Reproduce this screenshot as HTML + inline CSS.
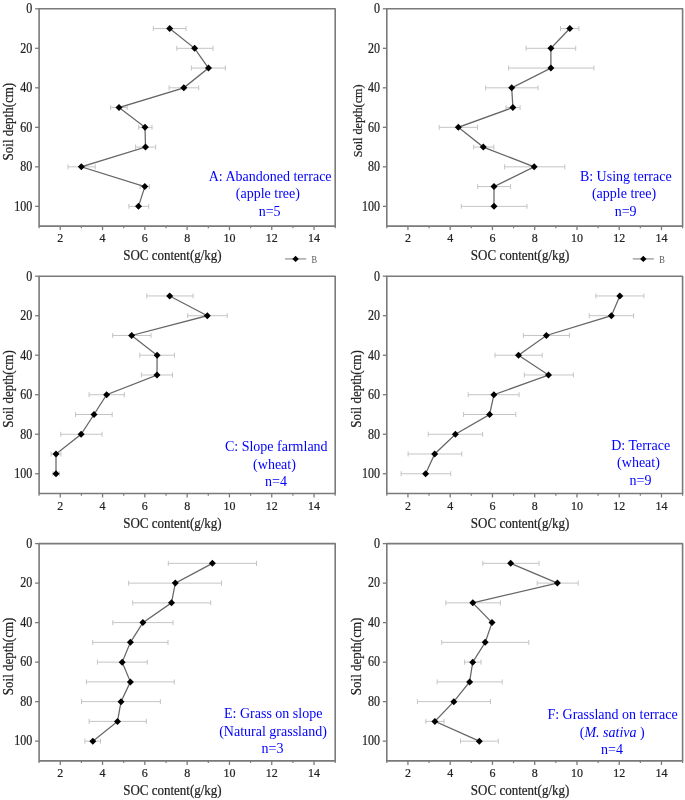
<!DOCTYPE html>
<html><head><meta charset="utf-8"><style>
html,body{margin:0;padding:0;background:#fff;}
body{width:685px;height:800px;overflow:hidden;}
svg{display:block;filter:blur(0.3px);}
text{font-family:"Liberation Serif",serif;}
.tk{font-size:12px;fill:#222;stroke:#222;stroke-width:0.2px;}
.tt{font-size:13px;fill:#222;stroke:#222;stroke-width:0.2px;}
.an{font-size:14px;fill:#0000ff;}
.lg{font-size:10.5px;fill:#555;}
</style></head><body>
<svg width="685" height="800" viewBox="0 0 685 800">
<rect width="685" height="800" fill="#fff"/>
<rect x="39.10" y="8.80" width="296.10" height="217.30" fill="none" stroke="#7a7a7a" stroke-width="1.6" stroke-linejoin="round"/>
<line x1="35.10" y1="8.80" x2="39.10" y2="8.80" stroke="#7a7a7a" stroke-width="1.3"/>
<text transform="translate(32.30,13.10) scale(1,1.15)" class="tk" text-anchor="end">0</text>
<line x1="35.10" y1="48.31" x2="39.10" y2="48.31" stroke="#7a7a7a" stroke-width="1.3"/>
<text transform="translate(32.30,52.61) scale(1,1.15)" class="tk" text-anchor="end">20</text>
<line x1="35.10" y1="87.82" x2="39.10" y2="87.82" stroke="#7a7a7a" stroke-width="1.3"/>
<text transform="translate(32.30,92.12) scale(1,1.15)" class="tk" text-anchor="end">40</text>
<line x1="35.10" y1="127.33" x2="39.10" y2="127.33" stroke="#7a7a7a" stroke-width="1.3"/>
<text transform="translate(32.30,131.63) scale(1,1.15)" class="tk" text-anchor="end">60</text>
<line x1="35.10" y1="166.84" x2="39.10" y2="166.84" stroke="#7a7a7a" stroke-width="1.3"/>
<text transform="translate(32.30,171.14) scale(1,1.15)" class="tk" text-anchor="end">80</text>
<line x1="35.10" y1="206.35" x2="39.10" y2="206.35" stroke="#7a7a7a" stroke-width="1.3"/>
<text transform="translate(32.30,210.65) scale(1,1.15)" class="tk" text-anchor="end">100</text>
<line x1="60.25" y1="226.10" x2="60.25" y2="230.10" stroke="#7a7a7a" stroke-width="1.3"/>
<text transform="translate(60.25,242.30) scale(1,1.1)" class="tk" text-anchor="middle">2</text>
<line x1="102.55" y1="226.10" x2="102.55" y2="230.10" stroke="#7a7a7a" stroke-width="1.3"/>
<text transform="translate(102.55,242.30) scale(1,1.1)" class="tk" text-anchor="middle">4</text>
<line x1="144.85" y1="226.10" x2="144.85" y2="230.10" stroke="#7a7a7a" stroke-width="1.3"/>
<text transform="translate(144.85,242.30) scale(1,1.1)" class="tk" text-anchor="middle">6</text>
<line x1="187.15" y1="226.10" x2="187.15" y2="230.10" stroke="#7a7a7a" stroke-width="1.3"/>
<text transform="translate(187.15,242.30) scale(1,1.1)" class="tk" text-anchor="middle">8</text>
<line x1="229.45" y1="226.10" x2="229.45" y2="230.10" stroke="#7a7a7a" stroke-width="1.3"/>
<text transform="translate(229.45,242.30) scale(1,1.1)" class="tk" text-anchor="middle">10</text>
<line x1="271.75" y1="226.10" x2="271.75" y2="230.10" stroke="#7a7a7a" stroke-width="1.3"/>
<text transform="translate(271.75,242.30) scale(1,1.1)" class="tk" text-anchor="middle">12</text>
<line x1="314.05" y1="226.10" x2="314.05" y2="230.10" stroke="#7a7a7a" stroke-width="1.3"/>
<text transform="translate(314.05,242.30) scale(1,1.1)" class="tk" text-anchor="middle">14</text>
<line x1="39.10" y1="226.10" x2="39.10" y2="228.30" stroke="#7a7a7a" stroke-width="1.2"/>
<line x1="81.40" y1="226.10" x2="81.40" y2="228.30" stroke="#7a7a7a" stroke-width="1.2"/>
<line x1="123.70" y1="226.10" x2="123.70" y2="228.30" stroke="#7a7a7a" stroke-width="1.2"/>
<line x1="166.00" y1="226.10" x2="166.00" y2="228.30" stroke="#7a7a7a" stroke-width="1.2"/>
<line x1="208.30" y1="226.10" x2="208.30" y2="228.30" stroke="#7a7a7a" stroke-width="1.2"/>
<line x1="250.60" y1="226.10" x2="250.60" y2="228.30" stroke="#7a7a7a" stroke-width="1.2"/>
<line x1="292.90" y1="226.10" x2="292.90" y2="228.30" stroke="#7a7a7a" stroke-width="1.2"/>
<line x1="335.20" y1="226.10" x2="335.20" y2="228.30" stroke="#7a7a7a" stroke-width="1.2"/>
<text transform="translate(172.40,260.10) scale(1,1.08)" class="tt" text-anchor="middle">SOC content(g/kg)</text>
<text transform="translate(12.90,121.60) rotate(-90) scale(1,1.08)" class="tt" text-anchor="middle">Soil depth(cm)</text>
<path d="M153.30 28.55H186.00M153.30 26.05V31.05M186.00 26.05V31.05" stroke="#c4c4c4" stroke-width="1" fill="none"/>
<path d="M176.80 48.31H213.00M176.80 45.81V50.81M213.00 45.81V50.81" stroke="#c4c4c4" stroke-width="1" fill="none"/>
<path d="M191.40 68.06H225.30M191.40 65.56V70.56M225.30 65.56V70.56" stroke="#c4c4c4" stroke-width="1" fill="none"/>
<path d="M169.10 87.82H198.70M169.10 85.32V90.32M198.70 85.32V90.32" stroke="#c4c4c4" stroke-width="1" fill="none"/>
<path d="M110.60 107.57H127.20M110.60 105.07V110.07M127.20 105.07V110.07" stroke="#c4c4c4" stroke-width="1" fill="none"/>
<path d="M138.70 127.33H152.00M138.70 124.83V129.83M152.00 124.83V129.83" stroke="#c4c4c4" stroke-width="1" fill="none"/>
<path d="M135.60 147.08H155.70M135.60 144.58V149.58M155.70 144.58V149.58" stroke="#c4c4c4" stroke-width="1" fill="none"/>
<path d="M68.00 166.84H95.20M68.00 164.34V169.34M95.20 164.34V169.34" stroke="#c4c4c4" stroke-width="1" fill="none"/>
<path d="M140.10 186.59H149.30M140.10 184.09V189.09M149.30 184.09V189.09" stroke="#c4c4c4" stroke-width="1" fill="none"/>
<path d="M128.90 206.35H148.70M128.90 203.85V208.85M148.70 203.85V208.85" stroke="#c4c4c4" stroke-width="1" fill="none"/>
<path d="M169.70 28.55 L194.60 48.31 L208.50 68.06 L183.80 87.82 L119.00 107.57 L145.00 127.33 L145.50 147.08 L81.30 166.84 L144.80 186.59 L138.50 206.35" stroke="#666" stroke-width="1.25" fill="none"/>
<path d="M169.70 25.05L173.20 28.55L169.70 32.05L166.20 28.55Z" fill="#000"/>
<path d="M194.60 44.81L198.10 48.31L194.60 51.81L191.10 48.31Z" fill="#000"/>
<path d="M208.50 64.56L212.00 68.06L208.50 71.56L205.00 68.06Z" fill="#000"/>
<path d="M183.80 84.32L187.30 87.82L183.80 91.32L180.30 87.82Z" fill="#000"/>
<path d="M119.00 104.07L122.50 107.57L119.00 111.07L115.50 107.57Z" fill="#000"/>
<path d="M145.00 123.83L148.50 127.33L145.00 130.83L141.50 127.33Z" fill="#000"/>
<path d="M145.50 143.58L149.00 147.08L145.50 150.58L142.00 147.08Z" fill="#000"/>
<path d="M81.30 163.34L84.80 166.84L81.30 170.34L77.80 166.84Z" fill="#000"/>
<path d="M144.80 183.09L148.30 186.59L144.80 190.09L141.30 186.59Z" fill="#000"/>
<path d="M138.50 202.85L142.00 206.35L138.50 209.85L135.00 206.35Z" fill="#000"/>
<text x="270.15" y="180.80" class="an" text-anchor="middle">A: Abandoned terrace</text>
<text x="267.90" y="198.30" class="an" text-anchor="middle">(apple tree)</text>
<text x="269.60" y="215.80" class="an" text-anchor="middle">n=5</text>
<line x1="285.10" y1="258.9" x2="306.10" y2="258.9" stroke="#999" stroke-width="1.3"/>
<path d="M295.60 255.70L298.80 258.90L295.60 262.10L292.40 258.90Z" fill="#000"/>
<text transform="translate(311.60,262.90) scale(0.8,1)" class="lg">B</text>
<rect x="386.80" y="8.80" width="295.80" height="217.30" fill="none" stroke="#7a7a7a" stroke-width="1.6" stroke-linejoin="round"/>
<line x1="382.80" y1="8.80" x2="386.80" y2="8.80" stroke="#7a7a7a" stroke-width="1.3"/>
<text transform="translate(380.00,13.10) scale(1,1.15)" class="tk" text-anchor="end">0</text>
<line x1="382.80" y1="48.31" x2="386.80" y2="48.31" stroke="#7a7a7a" stroke-width="1.3"/>
<text transform="translate(380.00,52.61) scale(1,1.15)" class="tk" text-anchor="end">20</text>
<line x1="382.80" y1="87.82" x2="386.80" y2="87.82" stroke="#7a7a7a" stroke-width="1.3"/>
<text transform="translate(380.00,92.12) scale(1,1.15)" class="tk" text-anchor="end">40</text>
<line x1="382.80" y1="127.33" x2="386.80" y2="127.33" stroke="#7a7a7a" stroke-width="1.3"/>
<text transform="translate(380.00,131.63) scale(1,1.15)" class="tk" text-anchor="end">60</text>
<line x1="382.80" y1="166.84" x2="386.80" y2="166.84" stroke="#7a7a7a" stroke-width="1.3"/>
<text transform="translate(380.00,171.14) scale(1,1.15)" class="tk" text-anchor="end">80</text>
<line x1="382.80" y1="206.35" x2="386.80" y2="206.35" stroke="#7a7a7a" stroke-width="1.3"/>
<text transform="translate(380.00,210.65) scale(1,1.15)" class="tk" text-anchor="end">100</text>
<line x1="407.93" y1="226.10" x2="407.93" y2="230.10" stroke="#7a7a7a" stroke-width="1.3"/>
<text transform="translate(407.93,242.30) scale(1,1.1)" class="tk" text-anchor="middle">2</text>
<line x1="450.19" y1="226.10" x2="450.19" y2="230.10" stroke="#7a7a7a" stroke-width="1.3"/>
<text transform="translate(450.19,242.30) scale(1,1.1)" class="tk" text-anchor="middle">4</text>
<line x1="492.44" y1="226.10" x2="492.44" y2="230.10" stroke="#7a7a7a" stroke-width="1.3"/>
<text transform="translate(492.44,242.30) scale(1,1.1)" class="tk" text-anchor="middle">6</text>
<line x1="534.70" y1="226.10" x2="534.70" y2="230.10" stroke="#7a7a7a" stroke-width="1.3"/>
<text transform="translate(534.70,242.30) scale(1,1.1)" class="tk" text-anchor="middle">8</text>
<line x1="576.96" y1="226.10" x2="576.96" y2="230.10" stroke="#7a7a7a" stroke-width="1.3"/>
<text transform="translate(576.96,242.30) scale(1,1.1)" class="tk" text-anchor="middle">10</text>
<line x1="619.21" y1="226.10" x2="619.21" y2="230.10" stroke="#7a7a7a" stroke-width="1.3"/>
<text transform="translate(619.21,242.30) scale(1,1.1)" class="tk" text-anchor="middle">12</text>
<line x1="661.47" y1="226.10" x2="661.47" y2="230.10" stroke="#7a7a7a" stroke-width="1.3"/>
<text transform="translate(661.47,242.30) scale(1,1.1)" class="tk" text-anchor="middle">14</text>
<line x1="386.80" y1="226.10" x2="386.80" y2="228.30" stroke="#7a7a7a" stroke-width="1.2"/>
<line x1="429.06" y1="226.10" x2="429.06" y2="228.30" stroke="#7a7a7a" stroke-width="1.2"/>
<line x1="471.31" y1="226.10" x2="471.31" y2="228.30" stroke="#7a7a7a" stroke-width="1.2"/>
<line x1="513.57" y1="226.10" x2="513.57" y2="228.30" stroke="#7a7a7a" stroke-width="1.2"/>
<line x1="555.83" y1="226.10" x2="555.83" y2="228.30" stroke="#7a7a7a" stroke-width="1.2"/>
<line x1="598.09" y1="226.10" x2="598.09" y2="228.30" stroke="#7a7a7a" stroke-width="1.2"/>
<line x1="640.34" y1="226.10" x2="640.34" y2="228.30" stroke="#7a7a7a" stroke-width="1.2"/>
<line x1="682.60" y1="226.10" x2="682.60" y2="228.30" stroke="#7a7a7a" stroke-width="1.2"/>
<text transform="translate(520.10,260.10) scale(1,1.08)" class="tt" text-anchor="middle">SOC content(g/kg)</text>
<text transform="translate(361.50,120.80) rotate(-90) scale(1,1.08)" class="tt" style="font-size:12.2px" text-anchor="middle">Soil depth(cm)</text>
<path d="M560.50 28.55H578.90M560.50 26.05V31.05M578.90 26.05V31.05" stroke="#c4c4c4" stroke-width="1" fill="none"/>
<path d="M526.10 48.31H575.70M526.10 45.81V50.81M575.70 45.81V50.81" stroke="#c4c4c4" stroke-width="1" fill="none"/>
<path d="M508.60 68.06H593.90M508.60 65.56V70.56M593.90 65.56V70.56" stroke="#c4c4c4" stroke-width="1" fill="none"/>
<path d="M485.70 87.82H538.10M485.70 85.32V90.32M538.10 85.32V90.32" stroke="#c4c4c4" stroke-width="1" fill="none"/>
<path d="M506.10 107.57H520.10M506.10 105.07V110.07M520.10 105.07V110.07" stroke="#c4c4c4" stroke-width="1" fill="none"/>
<path d="M439.20 127.33H477.50M439.20 124.83V129.83M477.50 124.83V129.83" stroke="#c4c4c4" stroke-width="1" fill="none"/>
<path d="M473.70 147.08H493.80M473.70 144.58V149.58M493.80 144.58V149.58" stroke="#c4c4c4" stroke-width="1" fill="none"/>
<path d="M504.60 166.84H564.80M504.60 164.34V169.34M564.80 164.34V169.34" stroke="#c4c4c4" stroke-width="1" fill="none"/>
<path d="M477.70 186.59H510.60M477.70 184.09V189.09M510.60 184.09V189.09" stroke="#c4c4c4" stroke-width="1" fill="none"/>
<path d="M461.30 206.35H527.00M461.30 203.85V208.85M527.00 203.85V208.85" stroke="#c4c4c4" stroke-width="1" fill="none"/>
<path d="M569.80 28.55 L550.90 48.31 L550.90 68.06 L511.70 87.82 L512.90 107.57 L458.30 127.33 L483.30 147.08 L534.20 166.84 L494.00 186.59 L494.00 206.35" stroke="#666" stroke-width="1.25" fill="none"/>
<path d="M569.80 25.05L573.30 28.55L569.80 32.05L566.30 28.55Z" fill="#000"/>
<path d="M550.90 44.81L554.40 48.31L550.90 51.81L547.40 48.31Z" fill="#000"/>
<path d="M550.90 64.56L554.40 68.06L550.90 71.56L547.40 68.06Z" fill="#000"/>
<path d="M511.70 84.32L515.20 87.82L511.70 91.32L508.20 87.82Z" fill="#000"/>
<path d="M512.90 104.07L516.40 107.57L512.90 111.07L509.40 107.57Z" fill="#000"/>
<path d="M458.30 123.83L461.80 127.33L458.30 130.83L454.80 127.33Z" fill="#000"/>
<path d="M483.30 143.58L486.80 147.08L483.30 150.58L479.80 147.08Z" fill="#000"/>
<path d="M534.20 163.34L537.70 166.84L534.20 170.34L530.70 166.84Z" fill="#000"/>
<path d="M494.00 183.09L497.50 186.59L494.00 190.09L490.50 186.59Z" fill="#000"/>
<path d="M494.00 202.85L497.50 206.35L494.00 209.85L490.50 206.35Z" fill="#000"/>
<text x="625.75" y="180.60" class="an" text-anchor="middle">B: Using terrace</text>
<text x="624.00" y="198.10" class="an" text-anchor="middle">(apple tree)</text>
<text x="625.65" y="215.60" class="an" text-anchor="middle">n=9</text>
<line x1="632.80" y1="258.9" x2="653.80" y2="258.9" stroke="#999" stroke-width="1.3"/>
<path d="M643.30 255.70L646.50 258.90L643.30 262.10L640.10 258.90Z" fill="#000"/>
<text transform="translate(659.30,262.90) scale(0.8,1)" class="lg">B</text>
<rect x="39.10" y="276.20" width="296.10" height="217.30" fill="none" stroke="#7a7a7a" stroke-width="1.6" stroke-linejoin="round"/>
<line x1="35.10" y1="276.20" x2="39.10" y2="276.20" stroke="#7a7a7a" stroke-width="1.3"/>
<text transform="translate(32.30,280.50) scale(1,1.15)" class="tk" text-anchor="end">0</text>
<line x1="35.10" y1="315.71" x2="39.10" y2="315.71" stroke="#7a7a7a" stroke-width="1.3"/>
<text transform="translate(32.30,320.01) scale(1,1.15)" class="tk" text-anchor="end">20</text>
<line x1="35.10" y1="355.22" x2="39.10" y2="355.22" stroke="#7a7a7a" stroke-width="1.3"/>
<text transform="translate(32.30,359.52) scale(1,1.15)" class="tk" text-anchor="end">40</text>
<line x1="35.10" y1="394.73" x2="39.10" y2="394.73" stroke="#7a7a7a" stroke-width="1.3"/>
<text transform="translate(32.30,399.03) scale(1,1.15)" class="tk" text-anchor="end">60</text>
<line x1="35.10" y1="434.24" x2="39.10" y2="434.24" stroke="#7a7a7a" stroke-width="1.3"/>
<text transform="translate(32.30,438.54) scale(1,1.15)" class="tk" text-anchor="end">80</text>
<line x1="35.10" y1="473.75" x2="39.10" y2="473.75" stroke="#7a7a7a" stroke-width="1.3"/>
<text transform="translate(32.30,478.05) scale(1,1.15)" class="tk" text-anchor="end">100</text>
<line x1="60.25" y1="493.50" x2="60.25" y2="497.50" stroke="#7a7a7a" stroke-width="1.3"/>
<text transform="translate(60.25,509.70) scale(1,1.1)" class="tk" text-anchor="middle">2</text>
<line x1="102.55" y1="493.50" x2="102.55" y2="497.50" stroke="#7a7a7a" stroke-width="1.3"/>
<text transform="translate(102.55,509.70) scale(1,1.1)" class="tk" text-anchor="middle">4</text>
<line x1="144.85" y1="493.50" x2="144.85" y2="497.50" stroke="#7a7a7a" stroke-width="1.3"/>
<text transform="translate(144.85,509.70) scale(1,1.1)" class="tk" text-anchor="middle">6</text>
<line x1="187.15" y1="493.50" x2="187.15" y2="497.50" stroke="#7a7a7a" stroke-width="1.3"/>
<text transform="translate(187.15,509.70) scale(1,1.1)" class="tk" text-anchor="middle">8</text>
<line x1="229.45" y1="493.50" x2="229.45" y2="497.50" stroke="#7a7a7a" stroke-width="1.3"/>
<text transform="translate(229.45,509.70) scale(1,1.1)" class="tk" text-anchor="middle">10</text>
<line x1="271.75" y1="493.50" x2="271.75" y2="497.50" stroke="#7a7a7a" stroke-width="1.3"/>
<text transform="translate(271.75,509.70) scale(1,1.1)" class="tk" text-anchor="middle">12</text>
<line x1="314.05" y1="493.50" x2="314.05" y2="497.50" stroke="#7a7a7a" stroke-width="1.3"/>
<text transform="translate(314.05,509.70) scale(1,1.1)" class="tk" text-anchor="middle">14</text>
<line x1="39.10" y1="493.50" x2="39.10" y2="495.70" stroke="#7a7a7a" stroke-width="1.2"/>
<line x1="81.40" y1="493.50" x2="81.40" y2="495.70" stroke="#7a7a7a" stroke-width="1.2"/>
<line x1="123.70" y1="493.50" x2="123.70" y2="495.70" stroke="#7a7a7a" stroke-width="1.2"/>
<line x1="166.00" y1="493.50" x2="166.00" y2="495.70" stroke="#7a7a7a" stroke-width="1.2"/>
<line x1="208.30" y1="493.50" x2="208.30" y2="495.70" stroke="#7a7a7a" stroke-width="1.2"/>
<line x1="250.60" y1="493.50" x2="250.60" y2="495.70" stroke="#7a7a7a" stroke-width="1.2"/>
<line x1="292.90" y1="493.50" x2="292.90" y2="495.70" stroke="#7a7a7a" stroke-width="1.2"/>
<line x1="335.20" y1="493.50" x2="335.20" y2="495.70" stroke="#7a7a7a" stroke-width="1.2"/>
<text transform="translate(172.40,527.50) scale(1,1.08)" class="tt" text-anchor="middle">SOC content(g/kg)</text>
<text transform="translate(12.90,389.00) rotate(-90) scale(1,1.08)" class="tt" text-anchor="middle">Soil depth(cm)</text>
<path d="M146.80 295.95H193.10M146.80 293.45V298.45M193.10 293.45V298.45" stroke="#c4c4c4" stroke-width="1" fill="none"/>
<path d="M187.70 315.71H227.20M187.70 313.21V318.21M227.20 313.21V318.21" stroke="#c4c4c4" stroke-width="1" fill="none"/>
<path d="M112.70 335.46H151.00M112.70 332.96V337.96M151.00 332.96V337.96" stroke="#c4c4c4" stroke-width="1" fill="none"/>
<path d="M139.80 355.22H174.40M139.80 352.72V357.72M174.40 352.72V357.72" stroke="#c4c4c4" stroke-width="1" fill="none"/>
<path d="M141.40 374.97H172.50M141.40 372.47V377.47M172.50 372.47V377.47" stroke="#c4c4c4" stroke-width="1" fill="none"/>
<path d="M89.10 394.73H124.30M89.10 392.23V397.23M124.30 392.23V397.23" stroke="#c4c4c4" stroke-width="1" fill="none"/>
<path d="M75.50 414.48H112.20M75.50 411.98V416.98M112.20 411.98V416.98" stroke="#c4c4c4" stroke-width="1" fill="none"/>
<path d="M60.80 434.24H102.10M60.80 431.74V436.74M102.10 431.74V436.74" stroke="#c4c4c4" stroke-width="1" fill="none"/>
<path d="M51.10 453.99H60.90M51.10 451.49V456.49M60.90 451.49V456.49" stroke="#c4c4c4" stroke-width="1" fill="none"/>
<path d="M52.80 473.75H59.30M52.80 471.25V476.25M59.30 471.25V476.25" stroke="#c4c4c4" stroke-width="1" fill="none"/>
<path d="M169.70 295.95 L207.30 315.71 L131.60 335.46 L157.10 355.22 L157.00 374.97 L106.60 394.73 L94.00 414.48 L81.10 434.24 L56.00 453.99 L56.00 473.75" stroke="#666" stroke-width="1.25" fill="none"/>
<path d="M169.70 292.45L173.20 295.95L169.70 299.45L166.20 295.95Z" fill="#000"/>
<path d="M207.30 312.21L210.80 315.71L207.30 319.21L203.80 315.71Z" fill="#000"/>
<path d="M131.60 331.96L135.10 335.46L131.60 338.96L128.10 335.46Z" fill="#000"/>
<path d="M157.10 351.72L160.60 355.22L157.10 358.72L153.60 355.22Z" fill="#000"/>
<path d="M157.00 371.47L160.50 374.97L157.00 378.47L153.50 374.97Z" fill="#000"/>
<path d="M106.60 391.23L110.10 394.73L106.60 398.23L103.10 394.73Z" fill="#000"/>
<path d="M94.00 410.98L97.50 414.48L94.00 417.98L90.50 414.48Z" fill="#000"/>
<path d="M81.10 430.74L84.60 434.24L81.10 437.74L77.60 434.24Z" fill="#000"/>
<path d="M56.00 450.49L59.50 453.99L56.00 457.49L52.50 453.99Z" fill="#000"/>
<path d="M56.00 470.25L59.50 473.75L56.00 477.25L52.50 473.75Z" fill="#000"/>
<text x="276.30" y="451.40" class="an" text-anchor="middle">C: Slope farmland</text>
<text x="274.50" y="468.90" class="an" text-anchor="middle">(wheat)</text>
<text x="276.00" y="486.40" class="an" text-anchor="middle">n=4</text>
<rect x="386.80" y="276.20" width="295.80" height="217.30" fill="none" stroke="#7a7a7a" stroke-width="1.6" stroke-linejoin="round"/>
<line x1="382.80" y1="276.20" x2="386.80" y2="276.20" stroke="#7a7a7a" stroke-width="1.3"/>
<text transform="translate(380.00,280.50) scale(1,1.15)" class="tk" text-anchor="end">0</text>
<line x1="382.80" y1="315.71" x2="386.80" y2="315.71" stroke="#7a7a7a" stroke-width="1.3"/>
<text transform="translate(380.00,320.01) scale(1,1.15)" class="tk" text-anchor="end">20</text>
<line x1="382.80" y1="355.22" x2="386.80" y2="355.22" stroke="#7a7a7a" stroke-width="1.3"/>
<text transform="translate(380.00,359.52) scale(1,1.15)" class="tk" text-anchor="end">40</text>
<line x1="382.80" y1="394.73" x2="386.80" y2="394.73" stroke="#7a7a7a" stroke-width="1.3"/>
<text transform="translate(380.00,399.03) scale(1,1.15)" class="tk" text-anchor="end">60</text>
<line x1="382.80" y1="434.24" x2="386.80" y2="434.24" stroke="#7a7a7a" stroke-width="1.3"/>
<text transform="translate(380.00,438.54) scale(1,1.15)" class="tk" text-anchor="end">80</text>
<line x1="382.80" y1="473.75" x2="386.80" y2="473.75" stroke="#7a7a7a" stroke-width="1.3"/>
<text transform="translate(380.00,478.05) scale(1,1.15)" class="tk" text-anchor="end">100</text>
<line x1="407.93" y1="493.50" x2="407.93" y2="497.50" stroke="#7a7a7a" stroke-width="1.3"/>
<text transform="translate(407.93,509.70) scale(1,1.1)" class="tk" text-anchor="middle">2</text>
<line x1="450.19" y1="493.50" x2="450.19" y2="497.50" stroke="#7a7a7a" stroke-width="1.3"/>
<text transform="translate(450.19,509.70) scale(1,1.1)" class="tk" text-anchor="middle">4</text>
<line x1="492.44" y1="493.50" x2="492.44" y2="497.50" stroke="#7a7a7a" stroke-width="1.3"/>
<text transform="translate(492.44,509.70) scale(1,1.1)" class="tk" text-anchor="middle">6</text>
<line x1="534.70" y1="493.50" x2="534.70" y2="497.50" stroke="#7a7a7a" stroke-width="1.3"/>
<text transform="translate(534.70,509.70) scale(1,1.1)" class="tk" text-anchor="middle">8</text>
<line x1="576.96" y1="493.50" x2="576.96" y2="497.50" stroke="#7a7a7a" stroke-width="1.3"/>
<text transform="translate(576.96,509.70) scale(1,1.1)" class="tk" text-anchor="middle">10</text>
<line x1="619.21" y1="493.50" x2="619.21" y2="497.50" stroke="#7a7a7a" stroke-width="1.3"/>
<text transform="translate(619.21,509.70) scale(1,1.1)" class="tk" text-anchor="middle">12</text>
<line x1="661.47" y1="493.50" x2="661.47" y2="497.50" stroke="#7a7a7a" stroke-width="1.3"/>
<text transform="translate(661.47,509.70) scale(1,1.1)" class="tk" text-anchor="middle">14</text>
<line x1="386.80" y1="493.50" x2="386.80" y2="495.70" stroke="#7a7a7a" stroke-width="1.2"/>
<line x1="429.06" y1="493.50" x2="429.06" y2="495.70" stroke="#7a7a7a" stroke-width="1.2"/>
<line x1="471.31" y1="493.50" x2="471.31" y2="495.70" stroke="#7a7a7a" stroke-width="1.2"/>
<line x1="513.57" y1="493.50" x2="513.57" y2="495.70" stroke="#7a7a7a" stroke-width="1.2"/>
<line x1="555.83" y1="493.50" x2="555.83" y2="495.70" stroke="#7a7a7a" stroke-width="1.2"/>
<line x1="598.09" y1="493.50" x2="598.09" y2="495.70" stroke="#7a7a7a" stroke-width="1.2"/>
<line x1="640.34" y1="493.50" x2="640.34" y2="495.70" stroke="#7a7a7a" stroke-width="1.2"/>
<line x1="682.60" y1="493.50" x2="682.60" y2="495.70" stroke="#7a7a7a" stroke-width="1.2"/>
<text transform="translate(520.10,527.50) scale(1,1.08)" class="tt" text-anchor="middle">SOC content(g/kg)</text>
<text transform="translate(360.60,389.00) rotate(-90) scale(1,1.08)" class="tt" text-anchor="middle">Soil depth(cm)</text>
<path d="M595.80 295.95H643.90M595.80 293.45V298.45M643.90 293.45V298.45" stroke="#c4c4c4" stroke-width="1" fill="none"/>
<path d="M589.20 315.71H633.60M589.20 313.21V318.21M633.60 313.21V318.21" stroke="#c4c4c4" stroke-width="1" fill="none"/>
<path d="M523.40 335.46H569.40M523.40 332.96V337.96M569.40 332.96V337.96" stroke="#c4c4c4" stroke-width="1" fill="none"/>
<path d="M495.00 355.22H542.20M495.00 352.72V357.72M542.20 352.72V357.72" stroke="#c4c4c4" stroke-width="1" fill="none"/>
<path d="M524.30 374.97H573.40M524.30 372.47V377.47M573.40 372.47V377.47" stroke="#c4c4c4" stroke-width="1" fill="none"/>
<path d="M468.20 394.73H519.10M468.20 392.23V397.23M519.10 392.23V397.23" stroke="#c4c4c4" stroke-width="1" fill="none"/>
<path d="M463.60 414.48H515.80M463.60 411.98V416.98M515.80 411.98V416.98" stroke="#c4c4c4" stroke-width="1" fill="none"/>
<path d="M428.20 434.24H482.60M428.20 431.74V436.74M482.60 431.74V436.74" stroke="#c4c4c4" stroke-width="1" fill="none"/>
<path d="M408.10 453.99H461.80M408.10 451.49V456.49M461.80 451.49V456.49" stroke="#c4c4c4" stroke-width="1" fill="none"/>
<path d="M401.10 473.75H450.70M401.10 471.25V476.25M450.70 471.25V476.25" stroke="#c4c4c4" stroke-width="1" fill="none"/>
<path d="M619.80 295.95 L611.40 315.71 L546.40 335.46 L518.50 355.22 L548.50 374.97 L493.90 394.73 L489.60 414.48 L455.40 434.24 L434.70 453.99 L425.60 473.75" stroke="#666" stroke-width="1.25" fill="none"/>
<path d="M619.80 292.45L623.30 295.95L619.80 299.45L616.30 295.95Z" fill="#000"/>
<path d="M611.40 312.21L614.90 315.71L611.40 319.21L607.90 315.71Z" fill="#000"/>
<path d="M546.40 331.96L549.90 335.46L546.40 338.96L542.90 335.46Z" fill="#000"/>
<path d="M518.50 351.72L522.00 355.22L518.50 358.72L515.00 355.22Z" fill="#000"/>
<path d="M548.50 371.47L552.00 374.97L548.50 378.47L545.00 374.97Z" fill="#000"/>
<path d="M493.90 391.23L497.40 394.73L493.90 398.23L490.40 394.73Z" fill="#000"/>
<path d="M489.60 410.98L493.10 414.48L489.60 417.98L486.10 414.48Z" fill="#000"/>
<path d="M455.40 430.74L458.90 434.24L455.40 437.74L451.90 434.24Z" fill="#000"/>
<path d="M434.70 450.49L438.20 453.99L434.70 457.49L431.20 453.99Z" fill="#000"/>
<path d="M425.60 470.25L429.10 473.75L425.60 477.25L422.10 473.75Z" fill="#000"/>
<text x="640.65" y="449.50" class="an" text-anchor="middle">D: Terrace</text>
<text x="638.50" y="467.00" class="an" text-anchor="middle">(wheat)</text>
<text x="640.50" y="484.50" class="an" text-anchor="middle">n=9</text>
<rect x="39.10" y="543.60" width="296.10" height="217.30" fill="none" stroke="#7a7a7a" stroke-width="1.6" stroke-linejoin="round"/>
<line x1="35.10" y1="543.60" x2="39.10" y2="543.60" stroke="#7a7a7a" stroke-width="1.3"/>
<text transform="translate(32.30,547.90) scale(1,1.15)" class="tk" text-anchor="end">0</text>
<line x1="35.10" y1="583.11" x2="39.10" y2="583.11" stroke="#7a7a7a" stroke-width="1.3"/>
<text transform="translate(32.30,587.41) scale(1,1.15)" class="tk" text-anchor="end">20</text>
<line x1="35.10" y1="622.62" x2="39.10" y2="622.62" stroke="#7a7a7a" stroke-width="1.3"/>
<text transform="translate(32.30,626.92) scale(1,1.15)" class="tk" text-anchor="end">40</text>
<line x1="35.10" y1="662.13" x2="39.10" y2="662.13" stroke="#7a7a7a" stroke-width="1.3"/>
<text transform="translate(32.30,666.43) scale(1,1.15)" class="tk" text-anchor="end">60</text>
<line x1="35.10" y1="701.64" x2="39.10" y2="701.64" stroke="#7a7a7a" stroke-width="1.3"/>
<text transform="translate(32.30,705.94) scale(1,1.15)" class="tk" text-anchor="end">80</text>
<line x1="35.10" y1="741.15" x2="39.10" y2="741.15" stroke="#7a7a7a" stroke-width="1.3"/>
<text transform="translate(32.30,745.45) scale(1,1.15)" class="tk" text-anchor="end">100</text>
<line x1="60.25" y1="760.90" x2="60.25" y2="764.90" stroke="#7a7a7a" stroke-width="1.3"/>
<text transform="translate(60.25,777.10) scale(1,1.1)" class="tk" text-anchor="middle">2</text>
<line x1="102.55" y1="760.90" x2="102.55" y2="764.90" stroke="#7a7a7a" stroke-width="1.3"/>
<text transform="translate(102.55,777.10) scale(1,1.1)" class="tk" text-anchor="middle">4</text>
<line x1="144.85" y1="760.90" x2="144.85" y2="764.90" stroke="#7a7a7a" stroke-width="1.3"/>
<text transform="translate(144.85,777.10) scale(1,1.1)" class="tk" text-anchor="middle">6</text>
<line x1="187.15" y1="760.90" x2="187.15" y2="764.90" stroke="#7a7a7a" stroke-width="1.3"/>
<text transform="translate(187.15,777.10) scale(1,1.1)" class="tk" text-anchor="middle">8</text>
<line x1="229.45" y1="760.90" x2="229.45" y2="764.90" stroke="#7a7a7a" stroke-width="1.3"/>
<text transform="translate(229.45,777.10) scale(1,1.1)" class="tk" text-anchor="middle">10</text>
<line x1="271.75" y1="760.90" x2="271.75" y2="764.90" stroke="#7a7a7a" stroke-width="1.3"/>
<text transform="translate(271.75,777.10) scale(1,1.1)" class="tk" text-anchor="middle">12</text>
<line x1="314.05" y1="760.90" x2="314.05" y2="764.90" stroke="#7a7a7a" stroke-width="1.3"/>
<text transform="translate(314.05,777.10) scale(1,1.1)" class="tk" text-anchor="middle">14</text>
<line x1="39.10" y1="760.90" x2="39.10" y2="763.10" stroke="#7a7a7a" stroke-width="1.2"/>
<line x1="81.40" y1="760.90" x2="81.40" y2="763.10" stroke="#7a7a7a" stroke-width="1.2"/>
<line x1="123.70" y1="760.90" x2="123.70" y2="763.10" stroke="#7a7a7a" stroke-width="1.2"/>
<line x1="166.00" y1="760.90" x2="166.00" y2="763.10" stroke="#7a7a7a" stroke-width="1.2"/>
<line x1="208.30" y1="760.90" x2="208.30" y2="763.10" stroke="#7a7a7a" stroke-width="1.2"/>
<line x1="250.60" y1="760.90" x2="250.60" y2="763.10" stroke="#7a7a7a" stroke-width="1.2"/>
<line x1="292.90" y1="760.90" x2="292.90" y2="763.10" stroke="#7a7a7a" stroke-width="1.2"/>
<line x1="335.20" y1="760.90" x2="335.20" y2="763.10" stroke="#7a7a7a" stroke-width="1.2"/>
<text transform="translate(172.40,794.90) scale(1,1.08)" class="tt" text-anchor="middle">SOC content(g/kg)</text>
<text transform="translate(12.90,656.40) rotate(-90) scale(1,1.08)" class="tt" text-anchor="middle">Soil depth(cm)</text>
<path d="M168.30 563.35H256.50M168.30 560.85V565.85M256.50 560.85V565.85" stroke="#c4c4c4" stroke-width="1" fill="none"/>
<path d="M128.60 583.11H221.50M128.60 580.61V585.61M221.50 580.61V585.61" stroke="#c4c4c4" stroke-width="1" fill="none"/>
<path d="M132.70 602.86H210.70M132.70 600.36V605.36M210.70 600.36V605.36" stroke="#c4c4c4" stroke-width="1" fill="none"/>
<path d="M112.80 622.62H173.00M112.80 620.12V625.12M173.00 620.12V625.12" stroke="#c4c4c4" stroke-width="1" fill="none"/>
<path d="M92.70 642.37H168.00M92.70 639.87V644.87M168.00 639.87V644.87" stroke="#c4c4c4" stroke-width="1" fill="none"/>
<path d="M97.40 662.13H147.30M97.40 659.63V664.63M147.30 659.63V664.63" stroke="#c4c4c4" stroke-width="1" fill="none"/>
<path d="M86.40 681.88H174.30M86.40 679.38V684.38M174.30 679.38V684.38" stroke="#c4c4c4" stroke-width="1" fill="none"/>
<path d="M81.50 701.64H160.40M81.50 699.14V704.14M160.40 699.14V704.14" stroke="#c4c4c4" stroke-width="1" fill="none"/>
<path d="M89.10 721.39H146.40M89.10 718.89V723.89M146.40 718.89V723.89" stroke="#c4c4c4" stroke-width="1" fill="none"/>
<path d="M84.90 741.15H100.50M84.90 738.65V743.65M100.50 738.65V743.65" stroke="#c4c4c4" stroke-width="1" fill="none"/>
<path d="M212.40 563.35 L175.30 583.11 L171.50 602.86 L142.90 622.62 L130.40 642.37 L122.20 662.13 L130.40 681.88 L121.00 701.64 L117.50 721.39 L92.80 741.15" stroke="#666" stroke-width="1.25" fill="none"/>
<path d="M212.40 559.85L215.90 563.35L212.40 566.85L208.90 563.35Z" fill="#000"/>
<path d="M175.30 579.61L178.80 583.11L175.30 586.61L171.80 583.11Z" fill="#000"/>
<path d="M171.50 599.36L175.00 602.86L171.50 606.36L168.00 602.86Z" fill="#000"/>
<path d="M142.90 619.12L146.40 622.62L142.90 626.12L139.40 622.62Z" fill="#000"/>
<path d="M130.40 638.87L133.90 642.37L130.40 645.87L126.90 642.37Z" fill="#000"/>
<path d="M122.20 658.63L125.70 662.13L122.20 665.63L118.70 662.13Z" fill="#000"/>
<path d="M130.40 678.38L133.90 681.88L130.40 685.38L126.90 681.88Z" fill="#000"/>
<path d="M121.00 698.14L124.50 701.64L121.00 705.14L117.50 701.64Z" fill="#000"/>
<path d="M117.50 717.89L121.00 721.39L117.50 724.89L114.00 721.39Z" fill="#000"/>
<path d="M92.80 737.65L96.30 741.15L92.80 744.65L89.30 741.15Z" fill="#000"/>
<text x="273.25" y="718.00" class="an" text-anchor="middle">E: Grass on slope</text>
<text x="273.05" y="735.50" class="an" text-anchor="middle">(Natural grassland)</text>
<text x="272.50" y="753.00" class="an" text-anchor="middle">n=3</text>
<rect x="386.80" y="543.60" width="295.80" height="217.30" fill="none" stroke="#7a7a7a" stroke-width="1.6" stroke-linejoin="round"/>
<line x1="382.80" y1="543.60" x2="386.80" y2="543.60" stroke="#7a7a7a" stroke-width="1.3"/>
<text transform="translate(380.00,547.90) scale(1,1.15)" class="tk" text-anchor="end">0</text>
<line x1="382.80" y1="583.11" x2="386.80" y2="583.11" stroke="#7a7a7a" stroke-width="1.3"/>
<text transform="translate(380.00,587.41) scale(1,1.15)" class="tk" text-anchor="end">20</text>
<line x1="382.80" y1="622.62" x2="386.80" y2="622.62" stroke="#7a7a7a" stroke-width="1.3"/>
<text transform="translate(380.00,626.92) scale(1,1.15)" class="tk" text-anchor="end">40</text>
<line x1="382.80" y1="662.13" x2="386.80" y2="662.13" stroke="#7a7a7a" stroke-width="1.3"/>
<text transform="translate(380.00,666.43) scale(1,1.15)" class="tk" text-anchor="end">60</text>
<line x1="382.80" y1="701.64" x2="386.80" y2="701.64" stroke="#7a7a7a" stroke-width="1.3"/>
<text transform="translate(380.00,705.94) scale(1,1.15)" class="tk" text-anchor="end">80</text>
<line x1="382.80" y1="741.15" x2="386.80" y2="741.15" stroke="#7a7a7a" stroke-width="1.3"/>
<text transform="translate(380.00,745.45) scale(1,1.15)" class="tk" text-anchor="end">100</text>
<line x1="407.93" y1="760.90" x2="407.93" y2="764.90" stroke="#7a7a7a" stroke-width="1.3"/>
<text transform="translate(407.93,777.10) scale(1,1.1)" class="tk" text-anchor="middle">2</text>
<line x1="450.19" y1="760.90" x2="450.19" y2="764.90" stroke="#7a7a7a" stroke-width="1.3"/>
<text transform="translate(450.19,777.10) scale(1,1.1)" class="tk" text-anchor="middle">4</text>
<line x1="492.44" y1="760.90" x2="492.44" y2="764.90" stroke="#7a7a7a" stroke-width="1.3"/>
<text transform="translate(492.44,777.10) scale(1,1.1)" class="tk" text-anchor="middle">6</text>
<line x1="534.70" y1="760.90" x2="534.70" y2="764.90" stroke="#7a7a7a" stroke-width="1.3"/>
<text transform="translate(534.70,777.10) scale(1,1.1)" class="tk" text-anchor="middle">8</text>
<line x1="576.96" y1="760.90" x2="576.96" y2="764.90" stroke="#7a7a7a" stroke-width="1.3"/>
<text transform="translate(576.96,777.10) scale(1,1.1)" class="tk" text-anchor="middle">10</text>
<line x1="619.21" y1="760.90" x2="619.21" y2="764.90" stroke="#7a7a7a" stroke-width="1.3"/>
<text transform="translate(619.21,777.10) scale(1,1.1)" class="tk" text-anchor="middle">12</text>
<line x1="661.47" y1="760.90" x2="661.47" y2="764.90" stroke="#7a7a7a" stroke-width="1.3"/>
<text transform="translate(661.47,777.10) scale(1,1.1)" class="tk" text-anchor="middle">14</text>
<line x1="386.80" y1="760.90" x2="386.80" y2="763.10" stroke="#7a7a7a" stroke-width="1.2"/>
<line x1="429.06" y1="760.90" x2="429.06" y2="763.10" stroke="#7a7a7a" stroke-width="1.2"/>
<line x1="471.31" y1="760.90" x2="471.31" y2="763.10" stroke="#7a7a7a" stroke-width="1.2"/>
<line x1="513.57" y1="760.90" x2="513.57" y2="763.10" stroke="#7a7a7a" stroke-width="1.2"/>
<line x1="555.83" y1="760.90" x2="555.83" y2="763.10" stroke="#7a7a7a" stroke-width="1.2"/>
<line x1="598.09" y1="760.90" x2="598.09" y2="763.10" stroke="#7a7a7a" stroke-width="1.2"/>
<line x1="640.34" y1="760.90" x2="640.34" y2="763.10" stroke="#7a7a7a" stroke-width="1.2"/>
<line x1="682.60" y1="760.90" x2="682.60" y2="763.10" stroke="#7a7a7a" stroke-width="1.2"/>
<text transform="translate(520.10,794.90) scale(1,1.08)" class="tt" text-anchor="middle">SOC content(g/kg)</text>
<text transform="translate(360.60,656.40) rotate(-90) scale(1,1.08)" class="tt" text-anchor="middle">Soil depth(cm)</text>
<path d="M482.80 563.35H539.10M482.80 560.85V565.85M539.10 560.85V565.85" stroke="#c4c4c4" stroke-width="1" fill="none"/>
<path d="M537.20 583.11H578.20M537.20 580.61V585.61M578.20 580.61V585.61" stroke="#c4c4c4" stroke-width="1" fill="none"/>
<path d="M445.80 602.86H500.40M445.80 600.36V605.36M500.40 600.36V605.36" stroke="#c4c4c4" stroke-width="1" fill="none"/>
<path d="M441.70 642.37H528.80M441.70 639.87V644.87M528.80 639.87V644.87" stroke="#c4c4c4" stroke-width="1" fill="none"/>
<path d="M464.60 662.13H481.00M464.60 659.63V664.63M481.00 659.63V664.63" stroke="#c4c4c4" stroke-width="1" fill="none"/>
<path d="M437.20 681.88H502.20M437.20 679.38V684.38M502.20 679.38V684.38" stroke="#c4c4c4" stroke-width="1" fill="none"/>
<path d="M417.40 701.64H490.50M417.40 699.14V704.14M490.50 699.14V704.14" stroke="#c4c4c4" stroke-width="1" fill="none"/>
<path d="M425.80 721.39H444.10M425.80 718.89V723.89M444.10 718.89V723.89" stroke="#c4c4c4" stroke-width="1" fill="none"/>
<path d="M460.50 741.15H498.30M460.50 738.65V743.65M498.30 738.65V743.65" stroke="#c4c4c4" stroke-width="1" fill="none"/>
<path d="M510.70 563.35 L557.40 583.11 L472.80 602.86 L492.00 622.62 L485.20 642.37 L472.70 662.13 L469.60 681.88 L453.80 701.64 L434.90 721.39 L479.30 741.15" stroke="#666" stroke-width="1.25" fill="none"/>
<path d="M510.70 559.85L514.20 563.35L510.70 566.85L507.20 563.35Z" fill="#000"/>
<path d="M557.40 579.61L560.90 583.11L557.40 586.61L553.90 583.11Z" fill="#000"/>
<path d="M472.80 599.36L476.30 602.86L472.80 606.36L469.30 602.86Z" fill="#000"/>
<path d="M492.00 619.12L495.50 622.62L492.00 626.12L488.50 622.62Z" fill="#000"/>
<path d="M485.20 638.87L488.70 642.37L485.20 645.87L481.70 642.37Z" fill="#000"/>
<path d="M472.70 658.63L476.20 662.13L472.70 665.63L469.20 662.13Z" fill="#000"/>
<path d="M469.60 678.38L473.10 681.88L469.60 685.38L466.10 681.88Z" fill="#000"/>
<path d="M453.80 698.14L457.30 701.64L453.80 705.14L450.30 701.64Z" fill="#000"/>
<path d="M434.90 717.89L438.40 721.39L434.90 724.89L431.40 721.39Z" fill="#000"/>
<path d="M479.30 737.65L482.80 741.15L479.30 744.65L475.80 741.15Z" fill="#000"/>
<text x="612.55" y="719.40" class="an" text-anchor="middle">F: Grassland on terrace</text>
<text x="612.25" y="736.90" class="an" text-anchor="middle">(<tspan font-style="italic">M. sativa</tspan> )</text>
<text x="612.05" y="754.40" class="an" text-anchor="middle">n=4</text>
</svg>
</body></html>
